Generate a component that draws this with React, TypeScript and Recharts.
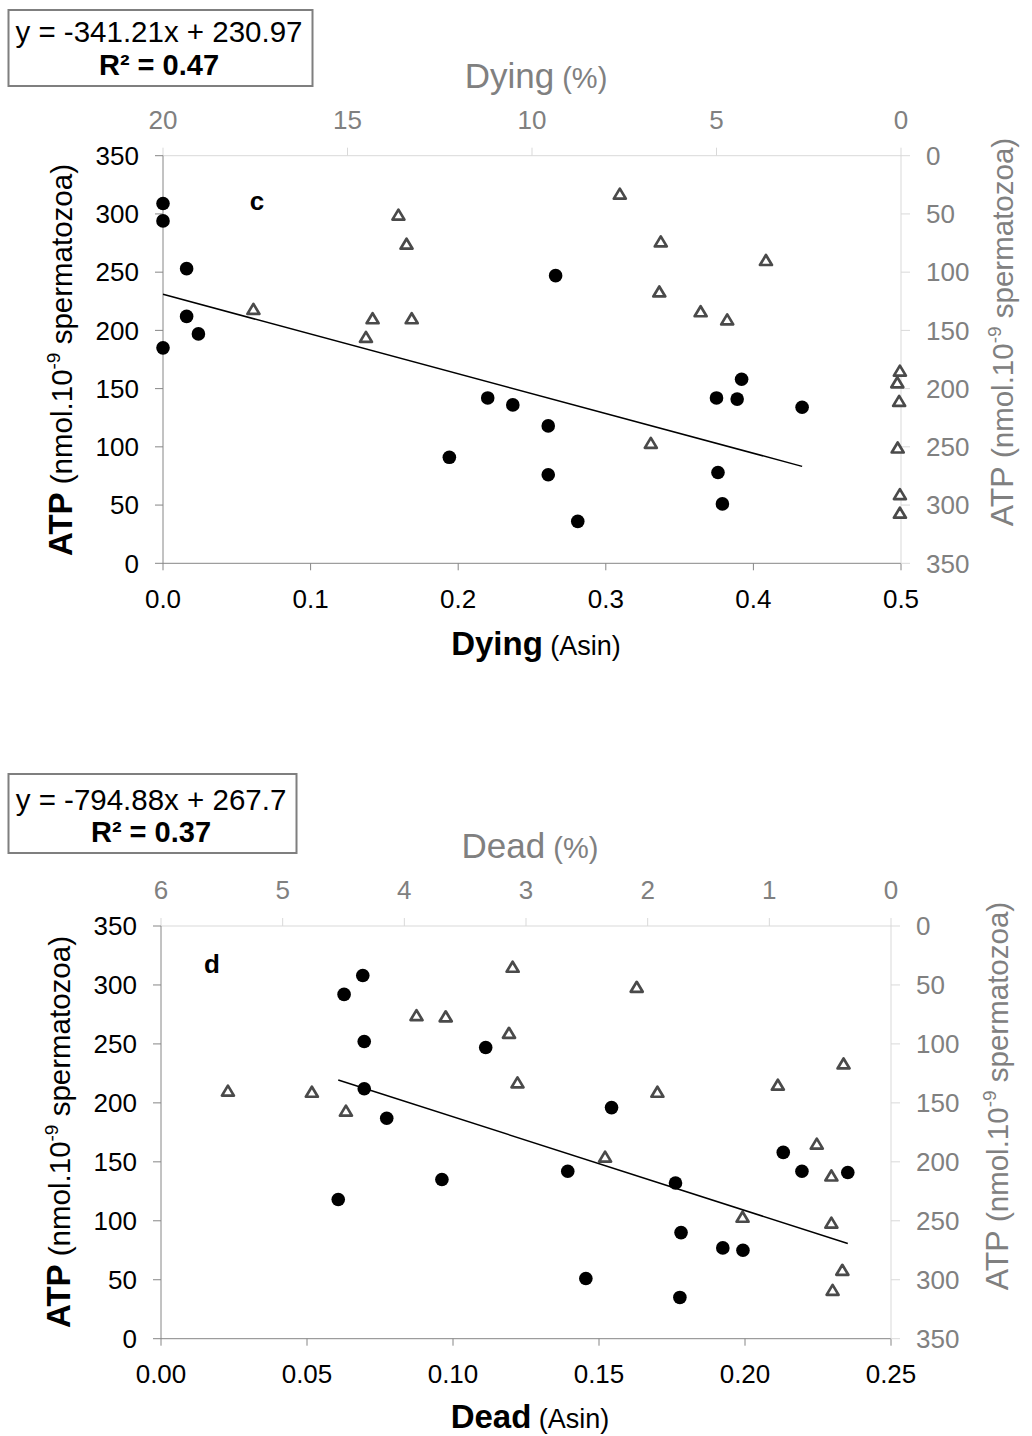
import React from "react"
import { ScatterChart, Scatter, XAxis, YAxis } from "recharts"

// panel c — black dots: Dying (Asin) vs ATP
const dyingAsin = [0, 0, 0.016, 0.016, 0.024, 0, 0.266, 0.22, 0.237, 0.194, 0.261, 0.261, 0.281, 0.375, 0.389, 0.392, 0.433, 0.376, 0.379]
const dyingAtp = [309, 294, 253, 212, 197, 185, 247, 142, 136, 91, 118, 76, 36, 142, 141, 158, 134, 78, 51]
// panel c — triangles: Dying (%) vs ATP (right axis, reversed)
const dyingPct = [17.55, 13.62, 13.4, 14.32, 13.26, 14.5, 7.62, 6.51, 3.66, 6.55, 5.43, 4.71, 6.78, 0.03, 0.1, 0.05, 0.09, 0.03, 0.03]
const dyingPctAtp = [132, 51, 76, 140, 140, 156, 33, 74, 90, 117, 134, 141, 247, 185, 195, 211, 251, 291, 307]

// panel d — black dots: Dead (Asin) vs ATP
const deadAsin = [0.0627, 0.0691, 0.0696, 0.0696, 0.1112, 0.0773, 0.0607, 0.0962, 0.1543, 0.1393, 0.1762, 0.1781, 0.1455, 0.1777, 0.1924, 0.1993, 0.2131, 0.2195, 0.2352]
const deadAtp = [292, 308, 252, 212, 247, 187, 118, 135, 196, 142, 132, 90, 51, 35, 77, 75, 158, 142, 141]
// panel d — triangles: Dead (%) vs ATP
const deadPct = [5.45, 4.76, 4.48, 3.9, 3.66, 3.11, 3.14, 3.07, 2.09, 1.92, 0.93, 0.39, 2.35, 1.22, 0.61, 0.49, 0.49, 0.4, 0.48]
const deadPctAtp = [140, 141, 157, 76, 77, 35, 91, 133, 52, 141, 135, 117, 196, 247, 185, 212, 252, 292, 309]

const atpTicks = [0, 50, 100, 150, 200, 250, 300, 350]
const dyingAsinTicks = [0, 0.1, 0.2, 0.3, 0.4, 0.5]
const dyingPctTicks = [0, 5, 10, 15, 20]
const deadAsinTicks = [0, 0.05, 0.1, 0.15, 0.2, 0.25]
const deadPctTicks = [0, 1, 2, 3, 4, 5, 6]

const FONT = "'Liberation Sans', Arial, sans-serif"
const GREY = "#808080"

const toPoints = (xs: number[], ys: number[]) => xs.map((x, i) => ({ x, y: ys[i] }))

const fitLine = (xs: number[], slope: number, intercept: number) => {
  const lo = Math.min(...xs)
  const hi = Math.max(...xs)
  return [
    { x: lo, y: slope * lo + intercept },
    { x: hi, y: slope * hi + intercept },
  ]
}

const Dot = (p: any) => <circle cx={p.cx} cy={p.cy} r={6.8} fill="#000" />
const Tri = (p: any) => (
  <path
    d={`M${p.cx},${p.cy - 5.5} L${p.cx + 6},${p.cy + 4.5} L${p.cx - 6},${p.cy + 4.5} Z`}
    fill="#fff"
    stroke="#4a4a4a"
    strokeWidth={2.7}
    strokeLinejoin="round"
  />
)
const Nothing = () => <g />

type PanelProps = {
  top: number
  height: number
  plot: { left: number; right: number; top: number; bottom: number }
  asin: number[]
  atp: number[]
  pct: number[]
  pctAtp: number[]
  asinMax: number
  asinTicks: number[]
  asinDigits: number
  pctMax: number
  pctTicks: number[]
  slope: number
  intercept: number
  eq: string
  r2: string
  box: { x: number; y: number; w: number; h: number; cx: number; b1: number; b2: number }
  letter: { text: string; x: number; y: number }
  name: string
  topTitle: { x: number; y: number }
  bottomTitle: { x: number; y: number }
  leftTitle: { x: number; y: number }
  rightTitle: { x: number; y: number }
}

function Panel(p: PanelProps) {
  const W = 1032
  return (
    <div style={{ position: "absolute", left: 0, top: p.top, width: W, height: p.height }}>
      <ScatterChart width={W} height={p.height} margin={{ top: 0, right: 0, bottom: 0, left: 0 }}>
        <XAxis
          xAxisId="asin"
          type="number"
          dataKey="x"
          orientation="bottom"
          domain={[0, p.asinMax]}
          ticks={p.asinTicks}
          interval={0}
          height={p.height - p.plot.bottom}
          tickSize={7}
          tickMargin={19}
          stroke="#868686"
          tick={{ fill: "#000", fontSize: 26, fontFamily: FONT }}
          tickFormatter={(v: number) => v.toFixed(p.asinDigits)}
        />
        <XAxis
          xAxisId="pct"
          type="number"
          dataKey="x"
          orientation="top"
          domain={[0, p.pctMax]}
          reversed
          ticks={p.pctTicks}
          interval={0}
          height={p.plot.top}
          tickSize={8}
          tickMargin={19}
          stroke="#d9d9d9"
          tick={{ fill: GREY, fontSize: 26, fontFamily: FONT }}
        />
        <YAxis
          yAxisId="l"
          type="number"
          dataKey="y"
          domain={[0, 350]}
          ticks={atpTicks}
          interval={0}
          width={p.plot.left}
          tickSize={8}
          tickMargin={16}
          stroke="#868686"
          tick={{ fill: "#000", fontSize: 26, fontFamily: FONT }}
        />
        <YAxis
          yAxisId="r"
          type="number"
          dataKey="y"
          orientation="right"
          domain={[0, 350]}
          reversed
          ticks={atpTicks}
          interval={0}
          width={W - p.plot.right}
          tickSize={9}
          tickMargin={16}
          stroke="#d9d9d9"
          tick={{ fill: GREY, fontSize: 26, fontFamily: FONT }}
        />
        <Scatter
          data={toPoints(p.pct, p.pctAtp)}
          xAxisId="pct"
          yAxisId="r"
          shape={Tri}
          isAnimationActive={false}
        />
        <Scatter
          data={fitLine(p.asin, p.slope, p.intercept)}
          xAxisId="asin"
          yAxisId="l"
          line={{ stroke: "#000", strokeWidth: 1.5 }}
          shape={Nothing}
          isAnimationActive={false}
        />
        <Scatter
          data={toPoints(p.asin, p.atp)}
          xAxisId="asin"
          yAxisId="l"
          shape={Dot}
          isAnimationActive={false}
        />
      </ScatterChart>

      {/* titles, equation box, panel letter */}
      <svg
        width={W}
        height={p.height}
        style={{ position: "absolute", left: 0, top: 0, pointerEvents: "none", fontFamily: FONT }}
      >
        <rect x={p.box.x} y={p.box.y} width={p.box.w} height={p.box.h} fill="#fff" stroke="#7f7f7f" strokeWidth={2} />
        <text x={p.box.cx} y={p.box.b1} textAnchor="middle" fontSize={29.5} fill="#000">
          {p.eq}
        </text>
        <text x={p.box.cx} y={p.box.b2} textAnchor="middle" fontSize={29} fontWeight="bold" fill="#000">
          {p.r2}
        </text>

        <text x={p.letter.x} y={p.letter.y} textAnchor="middle" fontSize={26} fontWeight="bold" fill="#000">
          {p.letter.text}
        </text>

        <text x={p.topTitle.x} y={p.topTitle.y} textAnchor="middle" fill={GREY}>
          <tspan fontSize={35}>{p.name}</tspan>
          <tspan fontSize={29}> (%)</tspan>
        </text>

        <text x={p.bottomTitle.x} y={p.bottomTitle.y} textAnchor="middle" fill="#000">
          <tspan fontSize={33} fontWeight="bold">{p.name}</tspan>
          <tspan fontSize={27}> (Asin)</tspan>
        </text>

        <text
          x={p.leftTitle.x}
          y={p.leftTitle.y}
          textAnchor="middle"
          fill="#000"
          transform={`rotate(-90 ${p.leftTitle.x} ${p.leftTitle.y})`}
        >
          <tspan fontSize={33} fontWeight="bold">ATP</tspan>
          <tspan fontSize={29.5}> (nmol.10</tspan>
          <tspan fontSize={19} dy={-12}>-9</tspan>
          <tspan fontSize={29.5} dy={12}> spermatozoa)</tspan>
        </text>

        <text
          x={p.rightTitle.x}
          y={p.rightTitle.y}
          textAnchor="middle"
          fill={GREY}
          transform={`rotate(-90 ${p.rightTitle.x} ${p.rightTitle.y})`}
        >
          <tspan fontSize={32}>ATP</tspan>
          <tspan fontSize={29.5}> (nmol.10</tspan>
          <tspan fontSize={19} dy={-12}>-9</tspan>
          <tspan fontSize={29.5} dy={12}> spermatozoa)</tspan>
        </text>
      </svg>
    </div>
  )
}

export default function App() {
  return (
    <div style={{ position: "absolute", left: 0, top: 0, width: 1032, height: 1436, background: "#fff", fontFamily: FONT }}>
      <Panel
        top={0}
        height={700}
        plot={{ left: 163, right: 901, top: 155.7, bottom: 563.3 }}
        asin={dyingAsin}
        atp={dyingAtp}
        pct={dyingPct}
        pctAtp={dyingPctAtp}
        asinMax={0.5}
        asinTicks={dyingAsinTicks}
        asinDigits={1}
        pctMax={20}
        pctTicks={dyingPctTicks}
        slope={-341.21}
        intercept={230.97}
        eq="y = -341.21x + 230.97"
        r2="R² = 0.47"
        box={{ x: 8.5, y: 10, w: 304, h: 76, cx: 159, b1: 42, b2: 75 }}
        letter={{ text: "c", x: 257, y: 210 }}
        name="Dying"
        topTitle={{ x: 536, y: 88 }}
        bottomTitle={{ x: 536, y: 655 }}
        leftTitle={{ x: 72, y: 360 }}
        rightTitle={{ x: 1013, y: 332 }}
      />
      <Panel
        top={700}
        height={736}
        plot={{ left: 161, right: 891, top: 226, bottom: 638.7 }}
        asin={deadAsin}
        atp={deadAtp}
        pct={deadPct}
        pctAtp={deadPctAtp}
        asinMax={0.25}
        asinTicks={deadAsinTicks}
        asinDigits={2}
        pctMax={6}
        pctTicks={deadPctTicks}
        slope={-794.88}
        intercept={267.7}
        eq="y = -794.88x + 267.7"
        r2="R² = 0.37"
        box={{ x: 8.5, y: 74, w: 288, h: 79, cx: 151, b1: 110, b2: 142 }}
        letter={{ text: "d", x: 212, y: 273 }}
        name="Dead"
        topTitle={{ x: 530, y: 158 }}
        bottomTitle={{ x: 530, y: 728 }}
        leftTitle={{ x: 70, y: 432 }}
        rightTitle={{ x: 1008, y: 396 }}
      />
    </div>
  )
}
